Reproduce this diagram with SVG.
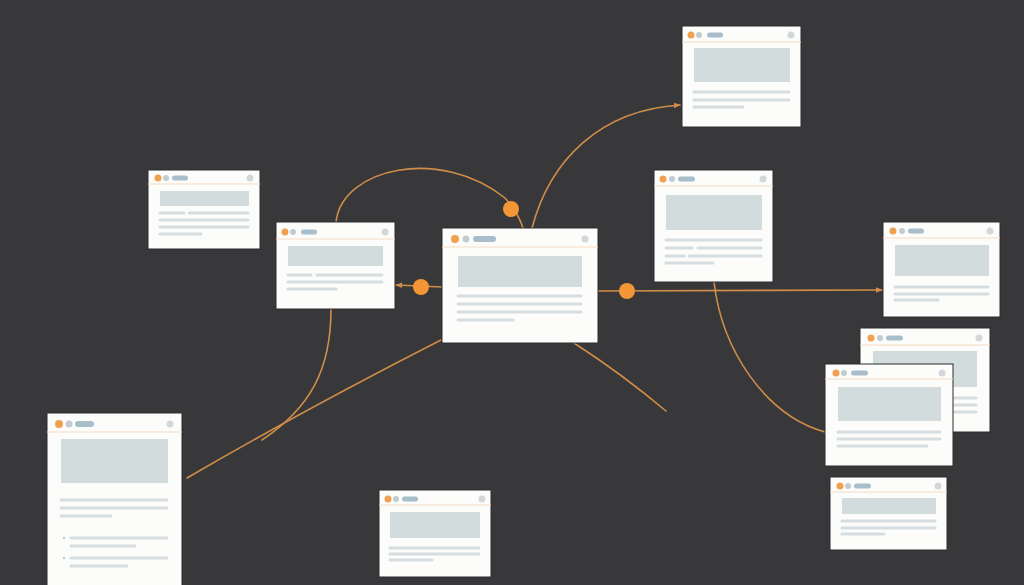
<svg xmlns="http://www.w3.org/2000/svg" width="1024" height="585" viewBox="0 0 1024 585">
<style>
.bg{fill:#38383b}
.card{fill:#fcfcfb;stroke:#2c2c2e;stroke-width:1}
.od{fill:#f0a04e}
.gd{fill:#c2ccd0}
.pill{fill:#a8becb}
.rc{fill:#d2d8da}
.hl{stroke:#f5dcc2;stroke-width:1.2}
.img{fill:#d3dcdd}
.ln{stroke:#d6dde0;stroke-width:3;stroke-linecap:round}
.con{fill:none;stroke:#d08d48;stroke-width:1.6;stroke-linecap:round}
.dot{fill:#f39636}
</style>
<defs>
<marker id="arr" viewBox="0 0 10 10" refX="9" refY="5" markerWidth="7" markerHeight="7" orient="auto" markerUnits="userSpaceOnUse">
<path d="M0,1 L10,5 L0,9 Z" fill="#d08d48"/>
</marker>
</defs>
<rect class="bg" x="0" y="0" width="1024" height="585"/>

<g id="connectors">
<path class="con" d="M336,222 C342,168 440,146 505,198 Q518,212 523,228"/>
<path class="con" d="M532,228 C550,160 600,110 680,105" marker-end="url(#arr)"/>
<path class="con" d="M442,287 L396,285" marker-end="url(#arr)"/>
<path class="con" d="M598,291 L882,290" marker-end="url(#arr)"/>
<path class="con" d="M441,340 Q300,412 187,478"/>
<path class="con" d="M331,309 C331,370 310,408 262,440"/>
<path class="con" d="M574,343 Q622,374 666,411"/>
<path class="con" d="M714,282 C722,350 765,415 825,432"/>
<circle class="dot" cx="511" cy="209" r="8"/>
<circle class="dot" cx="421" cy="287" r="8"/>
<circle class="dot" cx="627" cy="291" r="8"/>
</g>

<g id="node-top-right">
<rect class="card" x="682" y="26" width="119" height="101"/>
<circle class="od" cx="691" cy="35" r="3.5"/><circle class="gd" cx="699" cy="35" r="3"/>
<rect class="pill" x="707" y="32.5" width="16" height="5" rx="2.5"/><circle class="rc" cx="791" cy="35" r="3.5"/>
<line class="hl" x1="682" y1="42" x2="801" y2="42"/>
<rect class="img" x="694" y="48" width="96" height="34"/>
<line class="ln" x1="694" y1="92" x2="789" y2="92"/><line class="ln" x1="694" y1="100" x2="789" y2="100"/><line class="ln" x1="694" y1="107" x2="743" y2="107"/>
</g>

<g id="node-left-small">
<rect class="card" x="148" y="170" width="112" height="79"/>
<circle class="od" cx="158" cy="178" r="3.5"/><circle class="gd" cx="166" cy="178" r="3"/>
<rect class="pill" x="172" y="175.5" width="16" height="5" rx="2.5"/><circle class="rc" cx="250" cy="178" r="3.5"/>
<line class="hl" x1="148" y1="184" x2="260" y2="184"/>
<rect class="img" x="160" y="191" width="89" height="15"/>
<line class="ln" x1="160" y1="213" x2="184" y2="213"/><line class="ln" x1="189" y1="213" x2="248" y2="213"/>
<line class="ln" x1="160" y1="220" x2="248" y2="220"/><line class="ln" x1="160" y1="227" x2="248" y2="227"/><line class="ln" x1="160" y1="234" x2="201" y2="234"/>
</g>

<g id="node-left-mid">
<rect class="card" x="276" y="222" width="119" height="87"/>
<circle class="od" cx="285" cy="232" r="3.5"/><circle class="gd" cx="293" cy="232" r="3"/>
<rect class="pill" x="301" y="229.5" width="16" height="5" rx="2.5"/><circle class="rc" cx="385" cy="232" r="3.5"/>
<line class="hl" x1="276" y1="239" x2="395" y2="239"/>
<rect class="img" x="288" y="246" width="95" height="20"/>
<line class="ln" x1="288" y1="275" x2="311" y2="275"/><line class="ln" x1="317" y1="275" x2="382" y2="275"/>
<line class="ln" x1="288" y1="282" x2="382" y2="282"/><line class="ln" x1="288" y1="289" x2="336" y2="289"/>
</g>

<g id="node-center">
<rect class="card" x="442" y="228" width="156" height="115"/>
<circle class="od" cx="455" cy="239" r="4"/><circle class="gd" cx="466" cy="239" r="3.5"/>
<rect class="pill" x="473" y="236" width="23" height="6" rx="3"/><circle class="rc" cx="585" cy="239" r="3.5"/>
<line class="hl" x1="442" y1="247" x2="598" y2="247"/>
<rect class="img" x="458" y="256" width="124" height="31"/>
<line class="ln" x1="458" y1="296" x2="581" y2="296"/><line class="ln" x1="458" y1="304" x2="581" y2="304"/>
<line class="ln" x1="458" y1="312" x2="581" y2="312"/><line class="ln" x1="458" y1="320" x2="513" y2="320"/>
</g>

<g id="node-right-mid">
<rect class="card" x="654" y="170" width="119" height="112"/>
<circle class="od" cx="663" cy="179" r="3.5"/><circle class="gd" cx="672" cy="179" r="3"/>
<rect class="pill" x="678" y="176.5" width="17" height="5" rx="2.5"/><circle class="rc" cx="763" cy="179" r="3.5"/>
<line class="hl" x1="654" y1="186" x2="773" y2="186"/>
<rect class="img" x="666" y="195" width="96" height="35"/>
<line class="ln" x1="666" y1="240" x2="761" y2="240"/>
<line class="ln" x1="666" y1="248" x2="692" y2="248"/><line class="ln" x1="698" y1="248" x2="761" y2="248"/>
<line class="ln" x1="666" y1="256" x2="684" y2="256"/><line class="ln" x1="689" y1="256" x2="761" y2="256"/>
<line class="ln" x1="666" y1="263" x2="713" y2="263"/>
</g>

<g id="node-far-right">
<rect class="card" x="883" y="222" width="117" height="95"/>
<circle class="od" cx="893" cy="231" r="3.5"/><circle class="gd" cx="902" cy="231" r="3"/>
<rect class="pill" x="908" y="228.5" width="16" height="5" rx="2.5"/><circle class="rc" cx="990" cy="231" r="3.5"/>
<line class="hl" x1="883" y1="238" x2="1000" y2="238"/>
<rect class="img" x="895" y="245" width="94" height="31"/>
<line class="ln" x1="895" y1="287" x2="988" y2="287"/><line class="ln" x1="895" y1="294" x2="988" y2="294"/><line class="ln" x1="895" y1="300" x2="938" y2="300"/>
</g>

<g id="node-stack-back">
<rect class="card" x="860" y="328" width="130" height="104"/>
<circle class="od" cx="871" cy="338" r="3.5"/><circle class="gd" cx="880" cy="338" r="3"/>
<rect class="pill" x="886" y="335.5" width="17" height="5" rx="2.5"/><circle class="rc" cx="979" cy="338" r="3.5"/>
<line class="hl" x1="860" y1="345" x2="990" y2="345"/>
<rect class="img" x="873" y="351" width="104" height="36"/>
<line class="ln" x1="873" y1="398" x2="976" y2="398"/><line class="ln" x1="873" y1="405" x2="976" y2="405"/><line class="ln" x1="873" y1="412" x2="976" y2="412"/>
</g>

<g id="node-stack-front">
<rect class="card" x="825" y="364" width="128" height="102"/>
<circle class="od" cx="836" cy="373" r="3.5"/><circle class="gd" cx="844" cy="373" r="3"/>
<rect class="pill" x="851" y="370.5" width="17" height="5" rx="2.5"/><circle class="rc" cx="942" cy="373" r="3.5"/>
<line class="hl" x1="825" y1="379" x2="953" y2="379"/>
<rect class="img" x="838" y="387" width="103" height="34"/>
<line class="ln" x1="838" y1="432" x2="940" y2="432"/><line class="ln" x1="838" y1="439" x2="940" y2="439"/><line class="ln" x1="838" y1="446" x2="927" y2="446"/>
</g>

<g id="node-bottom-right">
<rect class="card" x="830" y="477" width="117" height="73"/>
<circle class="od" cx="840" cy="486" r="3.5"/><circle class="gd" cx="848" cy="486" r="3"/>
<rect class="pill" x="854" y="483.5" width="17" height="5" rx="2.5"/><circle class="rc" cx="938" cy="486" r="3.5"/>
<line class="hl" x1="830" y1="492" x2="947" y2="492"/>
<rect class="img" x="842" y="498" width="94" height="16"/>
<line class="ln" x1="842" y1="521" x2="935" y2="521"/><line class="ln" x1="842" y1="528" x2="935" y2="528"/><line class="ln" x1="842" y1="534" x2="884" y2="534"/>
</g>

<g id="node-bottom-center">
<rect class="card" x="379" y="490" width="112" height="87"/>
<circle class="od" cx="388" cy="499" r="3.5"/><circle class="gd" cx="396" cy="499" r="3"/>
<rect class="pill" x="402" y="496.5" width="16" height="5" rx="2.5"/><circle class="rc" cx="482" cy="499" r="3.5"/>
<line class="hl" x1="379" y1="505" x2="491" y2="505"/>
<rect class="img" x="390" y="512" width="90" height="26"/>
<line class="ln" x1="390" y1="548" x2="479" y2="548"/><line class="ln" x1="390" y1="554" x2="479" y2="554"/><line class="ln" x1="390" y1="560" x2="432" y2="560"/>
</g>

<g id="node-bottom-left">
<rect class="card" x="47" y="413" width="135" height="180"/>
<circle class="od" cx="59" cy="424" r="4"/><circle class="gd" cx="69" cy="424" r="3.5"/>
<rect class="pill" x="75" y="421" width="19" height="6" rx="3"/><circle class="rc" cx="170" cy="424" r="3.5"/>
<line class="hl" x1="47" y1="432" x2="182" y2="432"/>
<rect class="img" x="61" y="439" width="107" height="44"/>
<line class="ln" x1="61" y1="500" x2="167" y2="500"/><line class="ln" x1="61" y1="508" x2="167" y2="508"/><line class="ln" x1="61" y1="516" x2="111" y2="516"/>
<circle class="gd" cx="64" cy="538" r="1.3"/>
<line class="ln" x1="71" y1="538" x2="167" y2="538"/><line class="ln" x1="71" y1="546" x2="135" y2="546"/>
<circle class="gd" cx="64" cy="558" r="1.3"/>
<line class="ln" x1="71" y1="558" x2="167" y2="558"/><line class="ln" x1="71" y1="566" x2="127" y2="566"/>
</g>
</svg>
